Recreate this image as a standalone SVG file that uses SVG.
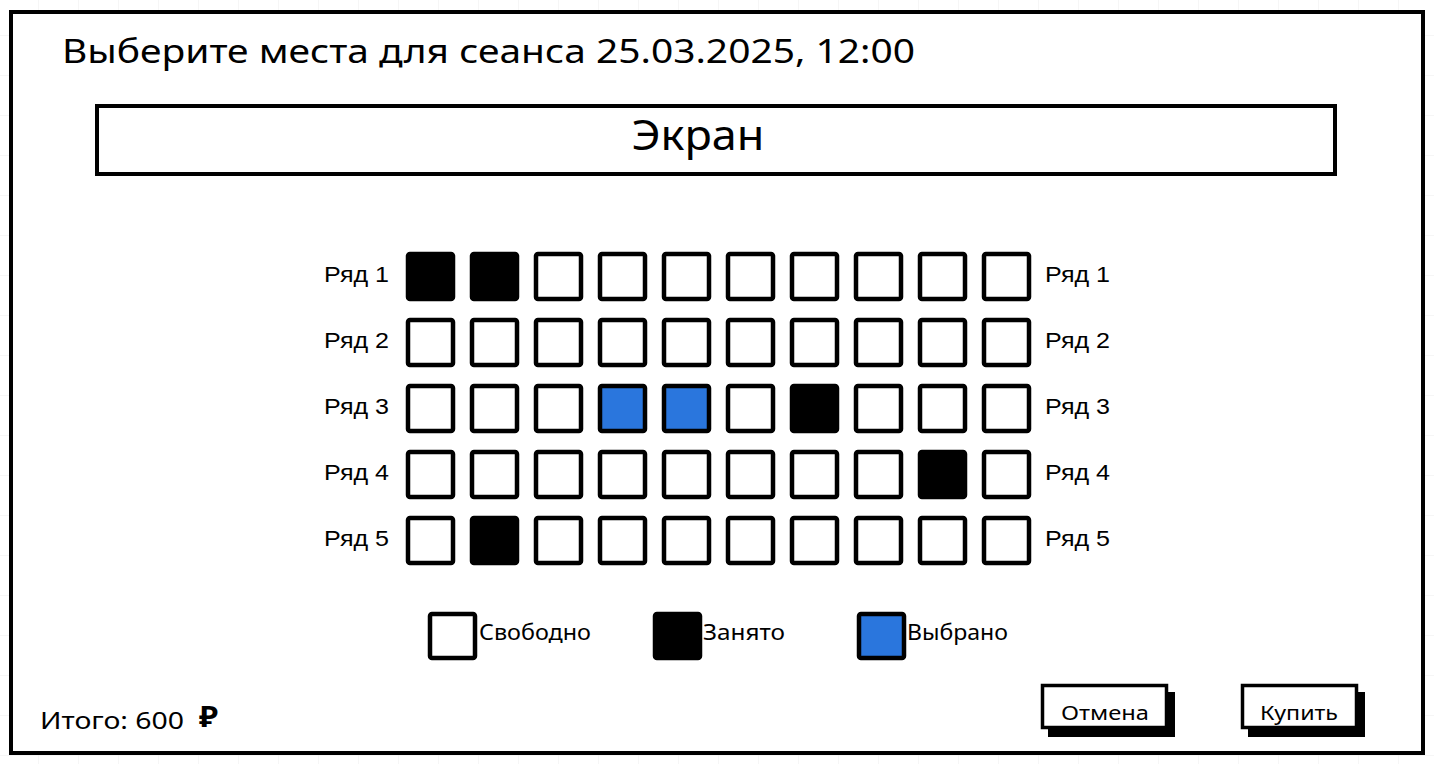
<svg xmlns="http://www.w3.org/2000/svg" width="1434" height="764" viewBox="0 0 1434 764">
<defs>
<pattern id="grid" x="-1" y="-4" width="40" height="40" patternUnits="userSpaceOnUse">
<path d="M40 0V40M0 40H40" fill="none" stroke="#ededed" stroke-width="1"/>
</pattern>
</defs>
<style>
.frame{fill:#ffffff;stroke:#000;stroke-width:4}
.box{fill:#ffffff;stroke:#000;stroke-width:4}
.seat{stroke:#000;stroke-width:4.5}
.free{fill:#ffffff}
.busy{fill:#000000}
.sel{fill:#2a76dd}
.hand{font-family:"Noto Sans","DejaVu Sans",sans-serif;fill:#000}
.lbl{font-family:"Liberation Sans",Arial,sans-serif;font-size:22px;fill:#000}
.btn{fill:#ffffff;stroke:#000;stroke-width:3.5}
.shadow{fill:#000}
</style>
<rect width="1434" height="764" fill="#ffffff"/>
<rect width="1434" height="764" fill="url(#grid)"/>

<g id="window">
<rect class="frame" x="11" y="12" width="1412" height="741"/>
<text class="hand" x="62" y="63" font-size="33" textLength="853" lengthAdjust="spacingAndGlyphs">Выберите места для сеанса 25.03.2025, 12:00</text>
</g>

<g id="screen">
<rect class="box" x="97" y="106" width="1238" height="68"/>
<text class="hand" x="698" y="150" font-size="42" text-anchor="middle" textLength="133" lengthAdjust="spacingAndGlyphs">Экран</text>
</g>

<g id="row-labels">
<text class="lbl" x="324" y="282" textLength="65" lengthAdjust="spacingAndGlyphs">Ряд 1</text>
<text class="lbl" x="324" y="348" textLength="65" lengthAdjust="spacingAndGlyphs">Ряд 2</text>
<text class="lbl" x="324" y="414" textLength="65" lengthAdjust="spacingAndGlyphs">Ряд 3</text>
<text class="lbl" x="324" y="480" textLength="65" lengthAdjust="spacingAndGlyphs">Ряд 4</text>
<text class="lbl" x="324" y="546" textLength="65" lengthAdjust="spacingAndGlyphs">Ряд 5</text>
<text class="lbl" x="1045" y="282" textLength="65" lengthAdjust="spacingAndGlyphs">Ряд 1</text>
<text class="lbl" x="1045" y="348" textLength="65" lengthAdjust="spacingAndGlyphs">Ряд 2</text>
<text class="lbl" x="1045" y="414" textLength="65" lengthAdjust="spacingAndGlyphs">Ряд 3</text>
<text class="lbl" x="1045" y="480" textLength="65" lengthAdjust="spacingAndGlyphs">Ряд 4</text>
<text class="lbl" x="1045" y="546" textLength="65" lengthAdjust="spacingAndGlyphs">Ряд 5</text>
</g>

<g id="seats">
<g id="row1">
<rect class="seat busy" x="408" y="254" width="45" height="45" rx="2"/>
<rect class="seat busy" x="472" y="254" width="45" height="45" rx="2"/>
<rect class="seat free" x="536" y="254" width="45" height="45" rx="2"/>
<rect class="seat free" x="600" y="254" width="45" height="45" rx="2"/>
<rect class="seat free" x="664" y="254" width="45" height="45" rx="2"/>
<rect class="seat free" x="728" y="254" width="45" height="45" rx="2"/>
<rect class="seat free" x="792" y="254" width="45" height="45" rx="2"/>
<rect class="seat free" x="856" y="254" width="45" height="45" rx="2"/>
<rect class="seat free" x="920" y="254" width="45" height="45" rx="2"/>
<rect class="seat free" x="984" y="254" width="45" height="45" rx="2"/>
</g>
<g id="row2">
<rect class="seat free" x="408" y="320" width="45" height="45" rx="2"/>
<rect class="seat free" x="472" y="320" width="45" height="45" rx="2"/>
<rect class="seat free" x="536" y="320" width="45" height="45" rx="2"/>
<rect class="seat free" x="600" y="320" width="45" height="45" rx="2"/>
<rect class="seat free" x="664" y="320" width="45" height="45" rx="2"/>
<rect class="seat free" x="728" y="320" width="45" height="45" rx="2"/>
<rect class="seat free" x="792" y="320" width="45" height="45" rx="2"/>
<rect class="seat free" x="856" y="320" width="45" height="45" rx="2"/>
<rect class="seat free" x="920" y="320" width="45" height="45" rx="2"/>
<rect class="seat free" x="984" y="320" width="45" height="45" rx="2"/>
</g>
<g id="row3">
<rect class="seat free" x="408" y="386" width="45" height="45" rx="2"/>
<rect class="seat free" x="472" y="386" width="45" height="45" rx="2"/>
<rect class="seat free" x="536" y="386" width="45" height="45" rx="2"/>
<rect class="seat sel" x="600" y="386" width="45" height="45" rx="2"/>
<rect class="seat sel" x="664" y="386" width="45" height="45" rx="2"/>
<rect class="seat free" x="728" y="386" width="45" height="45" rx="2"/>
<rect class="seat busy" x="792" y="386" width="45" height="45" rx="2"/>
<rect class="seat free" x="856" y="386" width="45" height="45" rx="2"/>
<rect class="seat free" x="920" y="386" width="45" height="45" rx="2"/>
<rect class="seat free" x="984" y="386" width="45" height="45" rx="2"/>
</g>
<g id="row4">
<rect class="seat free" x="408" y="452" width="45" height="45" rx="2"/>
<rect class="seat free" x="472" y="452" width="45" height="45" rx="2"/>
<rect class="seat free" x="536" y="452" width="45" height="45" rx="2"/>
<rect class="seat free" x="600" y="452" width="45" height="45" rx="2"/>
<rect class="seat free" x="664" y="452" width="45" height="45" rx="2"/>
<rect class="seat free" x="728" y="452" width="45" height="45" rx="2"/>
<rect class="seat free" x="792" y="452" width="45" height="45" rx="2"/>
<rect class="seat free" x="856" y="452" width="45" height="45" rx="2"/>
<rect class="seat busy" x="920" y="452" width="45" height="45" rx="2"/>
<rect class="seat free" x="984" y="452" width="45" height="45" rx="2"/>
</g>
<g id="row5">
<rect class="seat free" x="408" y="518" width="45" height="45" rx="2"/>
<rect class="seat busy" x="472" y="518" width="45" height="45" rx="2"/>
<rect class="seat free" x="536" y="518" width="45" height="45" rx="2"/>
<rect class="seat free" x="600" y="518" width="45" height="45" rx="2"/>
<rect class="seat free" x="664" y="518" width="45" height="45" rx="2"/>
<rect class="seat free" x="728" y="518" width="45" height="45" rx="2"/>
<rect class="seat free" x="792" y="518" width="45" height="45" rx="2"/>
<rect class="seat free" x="856" y="518" width="45" height="45" rx="2"/>
<rect class="seat free" x="920" y="518" width="45" height="45" rx="2"/>
<rect class="seat free" x="984" y="518" width="45" height="45" rx="2"/>
</g>
</g>

<g id="legend-free">
<rect class="seat free" x="430" y="614" width="45" height="44" rx="2"/>
<text class="hand" x="479" y="640" font-size="21" textLength="112" lengthAdjust="spacingAndGlyphs">Свободно</text>
</g>
<g id="legend-busy">
<rect class="seat busy" x="655" y="614" width="45" height="44" rx="2"/>
<text class="hand" x="703" y="640" font-size="21" textLength="82" lengthAdjust="spacingAndGlyphs">Занято</text>
</g>
<g id="legend-selected">
<rect class="seat sel" x="859" y="614" width="45" height="44" rx="2"/>
<text class="hand" x="907" y="640" font-size="21" textLength="101" lengthAdjust="spacingAndGlyphs">Выбрано</text>
</g>

<g id="total">
<text class="hand" x="40" y="729" font-size="23" textLength="144" lengthAdjust="spacingAndGlyphs">Итого: 600</text>
<text class="hand" x="199" y="727" font-size="28" font-weight="bold" textLength="19" lengthAdjust="spacingAndGlyphs">₽</text>
</g>

<g id="btn-cancel">
<rect class="shadow" x="1048" y="692" width="127" height="45"/>
<rect class="btn" x="1042.5" y="685.5" width="124" height="42"/>
<text class="hand" x="1105" y="720" font-size="20" text-anchor="middle" textLength="88" lengthAdjust="spacingAndGlyphs">Отмена</text>
</g>
<g id="btn-buy">
<rect class="shadow" x="1248" y="692" width="117" height="45"/>
<rect class="btn" x="1242.5" y="685.5" width="114" height="42"/>
<text class="hand" x="1299" y="720" font-size="20" text-anchor="middle" textLength="78" lengthAdjust="spacingAndGlyphs">Купить</text>
</g>

<g id="connectors"></g>
</svg>
